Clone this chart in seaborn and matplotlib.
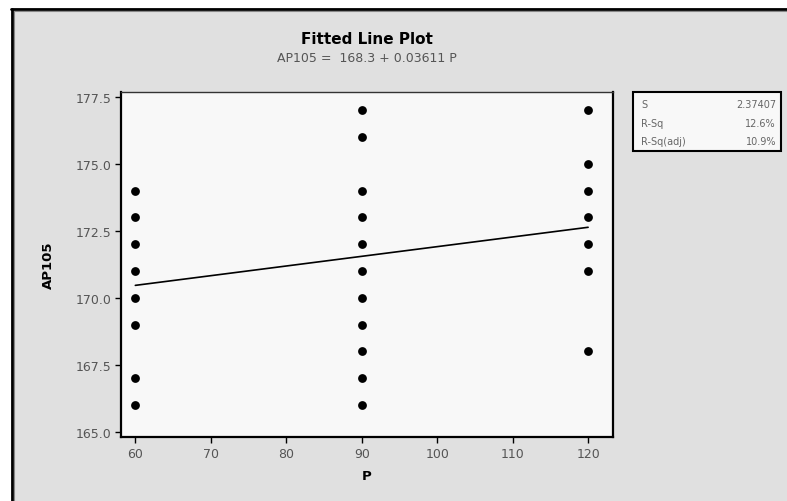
import matplotlib
matplotlib.use("Agg")
import matplotlib.pyplot as plt
from matplotlib.patches import Rectangle
from matplotlib.lines import Line2D
import numpy as np
import pandas as pd
import seaborn as sns

# Observations: predictor P and response AP105
p_values = [60, 60, 60, 60, 60, 60, 60, 60,
            90, 90, 90, 90, 90, 90, 90, 90, 90, 90, 90,
            120, 120, 120, 120, 120, 120, 120]
ap105_values = [174, 173, 172, 171, 170, 169, 167, 166,
                177, 176, 174, 173, 172, 171, 170, 169, 168, 167, 166,
                177, 175, 174, 173, 172, 171, 168]

# Regression summary
intercept = 168.3
slope = 0.03611
stat_names = ["S", "R-Sq", "R-Sq(adj)"]
stat_values = ["2.37407", "12.6%", "10.9%"]

x_ticks = [60, 70, 80, 90, 100, 110, 120]
y_ticks = [165.0, 167.5, 170.0, 172.5, 175.0, 177.5]

df = pd.DataFrame({"P": p_values, "AP105": ap105_values})
fit_x = np.array([min(p_values), max(p_values)], dtype=float)
fit_df = pd.DataFrame({"P": fit_x, "AP105": intercept + slope * fit_x})

sns.set_theme(style="white")
plt.rcParams["font.family"] = ["DejaVu Sans"]

fig = plt.figure(figsize=(7.87, 5.02), dpi=100, facecolor="#e0e0e0")
W, H = 787, 502

# window frame: white margin with a dark edge along the top and left
fig.patches.append(Rectangle((0, 0), 11 / W, 1, transform=fig.transFigure,
                             facecolor="white", edgecolor="none", zorder=-3))
fig.patches.append(Rectangle((0, 1 - 9 / H), 1, 9 / H, transform=fig.transFigure,
                             facecolor="white", edgecolor="none", zorder=-3))
fig.lines.append(Line2D([12 / W, 12 / W], [0, 1 - 10 / H], transform=fig.transFigure,
                        color="black", linewidth=2))
fig.lines.append(Line2D([11 / W, 1], [1 - 10 / H, 1 - 10 / H], transform=fig.transFigure,
                        color="black", linewidth=2))
fig.lines.append(Line2D([13.5 / W, 13.5 / W], [0, 1 - 11.5 / H], transform=fig.transFigure,
                        color="#888888", linewidth=0.8))
fig.lines.append(Line2D([13.5 / W, 1], [1 - 11.5 / H, 1 - 11.5 / H], transform=fig.transFigure,
                        color="#888888", linewidth=0.8))

ax = fig.add_axes([121 / W, 1 - 438 / H, (613 - 121) / W, (438 - 93) / H])
ax.set_facecolor("#f8f8f8")

sns.scatterplot(data=df, x="P", y="AP105", ax=ax, color="black", s=40,
                edgecolor="black", linewidth=0, zorder=3)
sns.lineplot(data=fit_df, x="P", y="AP105", ax=ax, color="black",
             linewidth=1.2, zorder=2)

ax.set_xlim(58.1, 123.3)
ax.set_ylim(164.81, 177.68)
ax.set_xticks(x_ticks)
ax.set_xticklabels([str(t) for t in x_ticks])
ax.set_yticks(y_ticks)
ax.set_yticklabels([f"{t:.1f}" for t in y_ticks])
ax.tick_params(axis="both", which="both", direction="out", length=4, width=1,
               color="black", labelsize=9, labelcolor="#555555", pad=3,
               left=True, bottom=True)

for side in ["left", "bottom", "right"]:
    ax.spines[side].set_color("black")
    ax.spines[side].set_linewidth(1.6)
ax.spines["top"].set_color("#333333")
ax.spines["top"].set_linewidth(1.0)

ax.set_xlabel("P", fontsize=9.5, fontweight="bold", color="black", labelpad=7)
ax.set_ylabel("AP105", fontsize=9.5, fontweight="bold", color="black", labelpad=15)

fig.text(367 / W, 1 - 40 / H, "Fitted Line Plot", ha="center", va="center",
         fontsize=11, fontweight="bold", color="black")
fig.text(367 / W, 1 - 58 / H, "AP105 =  168.3 + 0.03611 P", ha="center",
         va="center", fontsize=9, color="#555555")

# statistics box
bx0, bx1, by0, by1 = 633, 781, 93, 152
fig.patches.append(Rectangle((bx0 / W, 1 - by1 / H), (bx1 - bx0) / W, (by1 - by0) / H,
                             transform=fig.transFigure, facecolor="#f8f8f8",
                             edgecolor="black", linewidth=1.5, zorder=1))
row_y = [105, 124, 142]
for name, val, yy in zip(stat_names, stat_values, row_y):
    fig.text(641 / W, 1 - yy / H, name, ha="left", va="center",
             fontsize=7, color="#666666")
    fig.text(776 / W, 1 - yy / H, val, ha="right", va="center",
             fontsize=7, color="#666666")

fig.savefig("out.png", dpi=100, facecolor=fig.get_facecolor())
